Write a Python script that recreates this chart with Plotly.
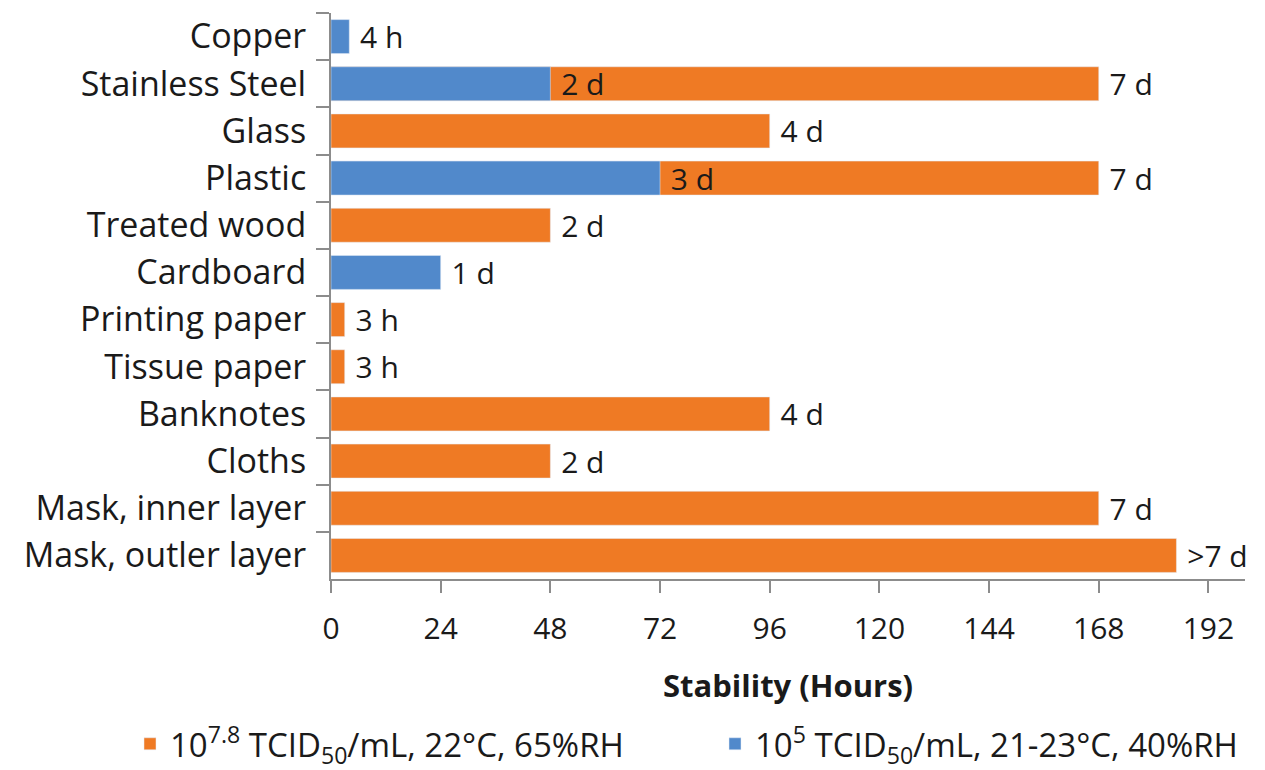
import plotly.graph_objects as go

categories = ["Copper", "Stainless Steel", "Glass", "Plastic", "Treated wood", "Cardboard",
              "Printing paper", "Tissue paper", "Banknotes", "Cloths",
              "Mask, inner layer", "Mask, outler layer"]
orange_hours = [None, 168, 96, 168, 48, None, 3, 3, 96, 48, 168, 185]
orange_labels = [None, "7 d", "4 d", "7 d", "2 d", None, "3 h", "3 h", "4 d", "2 d", "7 d", ">7 d"]
blue_hours = [4, 48, None, 72, None, 24, None, None, None, None, None, None]
blue_labels = ["4 h", "2 d", None, "3 d", None, "1 d", None, None, None, None, None, None]
x_ticks = [0, 24, 48, 72, 96, 120, 144, 168, 192]

ORANGE = "#EF7A24"
BLUE = "#5189CB"
FONT = "'Open Sans', Lato, sans-serif"
TXT = "#1a1a1a"


def present(values, labels):
    rows = [(c, v, t) for c, v, t in zip(categories, values, labels) if v is not None]
    return [r[0] for r in rows], [r[1] for r in rows], [r[2] for r in rows]


fig = go.Figure()
oc, ov, ot = present(orange_hours, orange_labels)
fig.add_trace(go.Bar(
    y=oc, x=ov, orientation="h", marker_color=ORANGE,
    text=ot, texttemplate=" %{text}", textposition="outside",
    cliponaxis=False, constraintext="none",
    textfont=dict(size=30, color=TXT, family=FONT),
    name="10<sup>7.8</sup> TCID<sub>50</sub>/mL, 22°C, 65%RH", legend="legend",
))
bc, bv, bt = present(blue_hours, blue_labels)
fig.add_trace(go.Bar(
    y=bc, x=bv, orientation="h", marker_color=BLUE,
    text=bt, texttemplate=" %{text}", textposition="outside",
    cliponaxis=False, constraintext="none",
    textfont=dict(size=30, color=TXT, family=FONT),
    name="10<sup>5</sup> TCID<sub>50</sub>/mL, 21-23°C, 40%RH", legend="legend2",
))

leg_common = dict(orientation="h", xref="container", yref="container",
                  xanchor="left", y=0.034, yanchor="middle",
                  font=dict(size=33, color=TXT), bgcolor="rgba(0,0,0,0)")

fig.update_layout(
    width=1265, height=770,
    barmode="overlay", bargap=0.28,
    plot_bgcolor="white", paper_bgcolor="white",
    margin=dict(l=331, r=20, t=13, b=191, autoexpand=False),
    font=dict(family=FONT, size=30, color=TXT),
    showlegend=True,
    legend=dict(x=130 / 1265, **leg_common),
    legend2=dict(x=715 / 1265, **leg_common),
)
fig.update_xaxes(
    range=[0, 200], tickvals=x_ticks, showgrid=False, zeroline=False,
    showline=True, linecolor="#8c8c8c", linewidth=2, automargin=False,
    ticks="outside", ticklen=12, tickcolor="#8c8c8c", tickwidth=2,
    tickfont=dict(size=30, color=TXT), ticklabelstandoff=10,
    title=dict(text="<b>Stability (Hours)</b>", font=dict(size=31, color=TXT), standoff=28),
)
fig.update_yaxes(
    categoryorder="array", categoryarray=categories, autorange="reversed",
    showgrid=False, zeroline=False, showline=True, linecolor="#8c8c8c", linewidth=2,
    automargin=False,
    ticks="outside", ticklen=13, tickcolor="#8c8c8c", tickwidth=2, tickson="boundaries",
    tickfont=dict(size=34, color=TXT), ticklabelstandoff=16,
)

fig.write_html("out.html", config={"displayModeBar": False},
               post_script="document.body.style.margin='0';document.body.style.padding='0';")
